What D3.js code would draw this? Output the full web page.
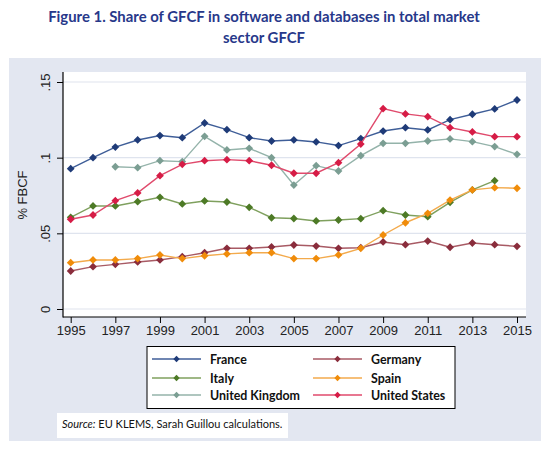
<!DOCTYPE html>
<html><head><meta charset="utf-8">
<script src="https://cdn.jsdelivr.net/npm/d3@7"></script>
<style>body{margin:0;background:#fff}svg{display:block}</style>
</head><body>
<svg id="c" width="550" height="451"></svg>
<script>
const years = d3.range(1995, 2016);
const france = [0.0927,0.100,0.107,0.1117,0.1146,0.1132,0.1229,0.1185,0.1132,0.111,0.1117,0.1104,0.108,0.1126,0.1176,0.1198,0.1183,0.1251,0.1287,0.1322,0.1381];
const germany = [0.0251,0.028,0.0295,0.0311,0.0324,0.0346,0.0372,0.0401,0.0401,0.041,0.0423,0.0416,0.0401,0.0405,0.0443,0.0425,0.0449,0.0408,0.0436,0.0425,0.0414];
const italy = [0.0606,0.0681,0.0681,0.0709,0.0738,0.0694,0.0714,0.0707,0.0672,0.0603,0.0598,0.0582,0.0588,0.0597,0.065,0.0621,0.061,0.0705,0.0787,0.0848,null];
const spain = [0.0306,0.0324,0.0324,0.0333,0.0357,0.0333,0.0352,0.0364,0.0372,0.0372,0.0333,0.0333,0.0357,0.0401,0.0489,0.057,0.0632,0.072,0.0787,0.0802,0.0798];
const uk = [null,null,0.094,0.0934,0.098,0.0974,0.1141,0.1051,0.1062,0.100,0.0819,0.0947,0.0912,0.1013,0.1095,0.1095,0.111,0.1124,0.1106,0.1073,0.1022];
const us = [0.0593,0.0621,0.0716,0.0767,0.0881,0.0956,0.098,0.0987,0.098,0.095,0.0897,0.0897,0.0967,0.109,0.1324,0.1289,0.1271,0.1198,0.117,0.1139,0.1139];
const seriesNames = ["France","Germany","Italy","Spain","United Kingdom","United States"];
const seriesColors = ["#1f3b78","#8a2d3c","#4d7a26","#f08c0a","#7b9e93","#d61c46"];
const lineColors = ["#3f5e98","#a85a64","#7fa05e","#f3aa4c","#94b3aa","#e04a6c"];
const yTicks = [0, 0.05, 0.1, 0.15];
const yTickLabels = ["0", ".05", ".1", ".15"];
const xTicks = d3.range(1995, 2016, 2);
const seriesData = [france, germany, italy, spain, uk, us];

const svg = d3.select("#c");
const font = "'Liberation Sans', Arial, sans-serif";
const fontT = "Lato, 'Open Sans', sans-serif";

// panel background
svg.append("rect").attr("x",9).attr("y",58).attr("width",532).attr("height",383).attr("fill","#e3e7f1");

// title
const title = svg.append("g").attr("font-family",fontT).attr("font-weight","bold").attr("fill","#27388a").attr("text-anchor","middle");
title.append("text").attr("x",264).attr("y",22).attr("font-size",14.9).text("Figure 1. Share of GFCF in software and databases in total market");
title.append("text").attr("x",264).attr("y",43).attr("font-size",14.9).text("sector GFCF");

const x = d3.scaleLinear().domain([1995, 2015]).range([70.7, 517]);
const y = d3.scaleLinear().domain([0, 0.15]).range([309, 82]);
const pl = 63, pr = 526, pt = 72, pb = 317;

svg.append("rect").attr("x",pl).attr("y",pt).attr("width",pr-pl).attr("height",pb-pt).attr("fill","#fff");

// grid
svg.append("g").selectAll("line").data(yTicks).join("line")
  .attr("x1",pl).attr("x2",pr).attr("y1",d=>y(d)).attr("y2",d=>y(d))
  .attr("stroke","#dfe4ee").attr("stroke-width",1.2);

// axes
const yAxis = svg.append("g").attr("transform",`translate(${pl},0)`)
  .call(d3.axisLeft(y).tickValues(yTicks).tickFormat((d,i)=>yTickLabels[i]).tickSize(6).tickSizeOuter(0));
yAxis.select(".domain").remove();
yAxis.selectAll(".tick line").attr("stroke","#000");
yAxis.selectAll(".tick text").attr("font-family",font).attr("font-size",13).attr("fill","#222")
  .attr("x",null).attr("dy",null).attr("text-anchor","middle")
  .attr("transform","translate(-13,0) rotate(-90)");
const xAxis = svg.append("g").attr("transform",`translate(0,${pb})`)
  .call(d3.axisBottom(x).tickValues(xTicks).tickFormat(d3.format("d")).tickSize(6).tickSizeOuter(0));
xAxis.select(".domain").remove();
xAxis.selectAll(".tick line").attr("stroke","#000");
xAxis.selectAll(".tick text").attr("font-family",font).attr("font-size",13).attr("fill","#222").attr("y",9).attr("dy","0.71em");

svg.append("line").attr("x1",pl).attr("x2",pl).attr("y1",pt).attr("y2",pb+0.5).attr("stroke","#000").attr("stroke-width",1.2);
svg.append("line").attr("x1",pl).attr("x2",pr).attr("y1",pb).attr("y2",pb).attr("stroke","#000").attr("stroke-width",1.2);

svg.append("text").attr("font-family",font).attr("font-size",13).attr("fill","#222").attr("text-anchor","middle")
  .attr("transform","translate(27,195) rotate(-90)").text("% FBCF");

const diamond = r => `M0,${-r}L${r},0L0,${r}L${-r},0Z`;
const line = d3.line().defined(d=>d.v!=null).x(d=>x(d.yr)).y(d=>y(d.v));
[0,1,2,3,4,5].forEach(i => {
  const pts = years.map((yr,j)=>({yr, v: seriesData[i][j]}));
  const g = svg.append("g");
  g.append("path").datum(pts).attr("d",line).attr("fill","none").attr("stroke",lineColors[i]).attr("stroke-width",1.4);
  g.selectAll("path.m").data(pts.filter(d=>d.v!=null)).join("path").attr("class","m")
    .attr("d",diamond(3.9)).attr("transform",d=>`translate(${x(d.yr)},${y(d.v)})`).attr("fill",seriesColors[i]);
});

// legend
svg.append("rect").attr("x",147).attr("y",346.5).attr("width",308).attr("height",62).attr("fill","#fff").attr("stroke","#000").attr("stroke-width",1);
const legPos = [[152,359],[313,359],[152,378],[313,378],[152,395],[313,395]];
seriesNames.forEach((n,i)=>{
  const [lx,ly] = legPos[i];
  svg.append("line").attr("x1",lx).attr("x2",lx+49).attr("y1",ly).attr("y2",ly).attr("stroke",lineColors[i]).attr("stroke-width",1.6);
  svg.append("path").attr("d",diamond(3.2)).attr("transform",`translate(${lx+24.5},${ly})`).attr("fill",seriesColors[i]);
  svg.append("text").attr("x",lx+58).attr("y",ly+4.5).attr("font-family",fontT).attr("font-weight","bold").attr("font-size",12.4).attr("fill","#111").text(n);
});

// source
svg.append("rect").attr("x",57).attr("y",413).attr("width",231).attr("height",25).attr("fill","#fff");
const st = svg.append("text").attr("x",62).attr("y",428).attr("font-family",fontT).attr("font-size",11).attr("fill","#111");
st.append("tspan").attr("font-style","italic").text("Source:");
st.append("tspan").text(" EU KLEMS, Sarah Guillou calculations.");
</script>
</body></html>
